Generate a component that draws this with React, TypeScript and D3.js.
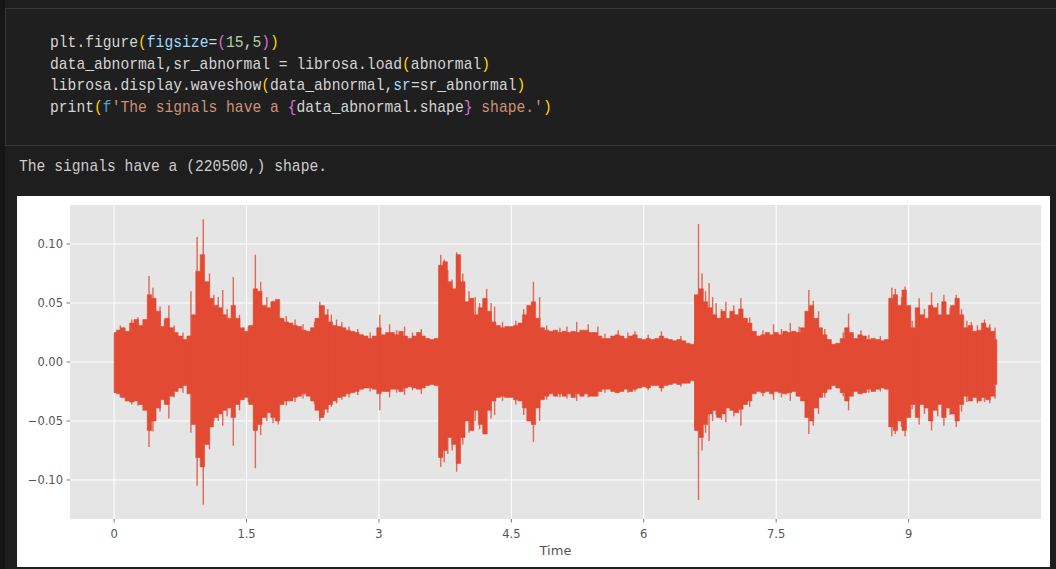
import React from "react";
import * as d3 from "d3";

// librosa.load -> 220500 samples @ 22050 Hz = 10 s
const DURATION = 10;
const FRAME_SEC = 0.05;

// envelope of the waveform per frame (max / min)
const upperEnv = [
  0.025, 0.027, 0.029, 0.026, 0.033, 0.036, 0.031, 0.036, 0.057, 0.054, 0.043, 0.03, 0.037, 0.029, 0.025, 0.022, 0.019, 0.022, 0.04, 0.077,
  0.091, 0.068, 0.054, 0.048, 0.046, 0.04, 0.037, 0.048, 0.037, 0.029, 0.026, 0.031, 0.062, 0.06, 0.048, 0.046, 0.051, 0.053, 0.037, 0.034,
  0.033, 0.031, 0.03, 0.027, 0.026, 0.029, 0.037, 0.048, 0.04, 0.034, 0.031, 0.03, 0.029, 0.027, 0.026, 0.025, 0.023, 0.022, 0.02, 0.022,
  0.029, 0.023, 0.025, 0.025, 0.023, 0.026, 0.022, 0.02, 0.022, 0.025, 0.022, 0.02, 0.019, 0.02, 0.082, 0.085, 0.068, 0.062, 0.091, 0.068,
  0.051, 0.054, 0.04, 0.046, 0.054, 0.043, 0.034, 0.031, 0.029, 0.03, 0.03, 0.031, 0.033, 0.04, 0.048, 0.051, 0.037, 0.029, 0.027, 0.026,
  0.027, 0.025, 0.026, 0.025, 0.026, 0.025, 0.027, 0.027, 0.025, 0.025, 0.022, 0.02, 0.02, 0.022, 0.023, 0.022, 0.02, 0.022, 0.023, 0.02,
  0.019, 0.02, 0.019, 0.02, 0.022, 0.02, 0.019, 0.018, 0.019, 0.018, 0.016, 0.015, 0.057, 0.062, 0.051, 0.046, 0.04, 0.037, 0.043, 0.037,
  0.043, 0.04, 0.045, 0.037, 0.033, 0.026, 0.022, 0.023, 0.025, 0.023, 0.025, 0.023, 0.026, 0.025, 0.026, 0.025, 0.029, 0.043, 0.048, 0.037,
  0.029, 0.023, 0.019, 0.015, 0.016, 0.02, 0.029, 0.025, 0.02, 0.023, 0.022, 0.019, 0.02, 0.019, 0.018, 0.019, 0.054, 0.057, 0.048, 0.061,
  0.048, 0.029, 0.046, 0.04, 0.037, 0.048, 0.046, 0.04, 0.051, 0.04, 0.048, 0.054, 0.04, 0.029, 0.031, 0.026, 0.027, 0.033, 0.029, 0.026,
  0.019,
];

const lowerEnv = [
  -0.026, -0.027, -0.03, -0.033, -0.034, -0.033, -0.036, -0.041, -0.058, -0.05, -0.039, -0.032, -0.036, -0.029, -0.025, -0.022, -0.02, -0.027, -0.053, -0.081,
  -0.089, -0.07, -0.055, -0.047, -0.044, -0.041, -0.039, -0.047, -0.036, -0.032, -0.03, -0.036, -0.058, -0.053, -0.047, -0.043, -0.047, -0.05, -0.036, -0.033,
  -0.033, -0.03, -0.029, -0.027, -0.029, -0.033, -0.041, -0.047, -0.04, -0.036, -0.033, -0.03, -0.029, -0.027, -0.026, -0.025, -0.023, -0.022, -0.022, -0.023,
  -0.027, -0.025, -0.025, -0.023, -0.023, -0.025, -0.022, -0.021, -0.022, -0.023, -0.022, -0.02, -0.019, -0.02, -0.081, -0.075, -0.064, -0.07, -0.086, -0.064,
  -0.05, -0.058, -0.041, -0.053, -0.061, -0.041, -0.033, -0.03, -0.029, -0.03, -0.03, -0.032, -0.033, -0.039, -0.05, -0.053, -0.039, -0.032, -0.029, -0.027,
  -0.029, -0.027, -0.029, -0.027, -0.03, -0.027, -0.029, -0.027, -0.029, -0.029, -0.025, -0.023, -0.023, -0.025, -0.026, -0.025, -0.023, -0.025, -0.023, -0.022,
  -0.021, -0.022, -0.02, -0.02, -0.022, -0.02, -0.019, -0.018, -0.019, -0.018, -0.018, -0.016, -0.058, -0.064, -0.053, -0.044, -0.041, -0.047, -0.044, -0.039,
  -0.041, -0.043, -0.04, -0.036, -0.033, -0.027, -0.025, -0.026, -0.025, -0.027, -0.025, -0.026, -0.027, -0.026, -0.025, -0.029, -0.033, -0.047, -0.05, -0.039,
  -0.03, -0.026, -0.023, -0.02, -0.022, -0.026, -0.033, -0.029, -0.025, -0.027, -0.026, -0.023, -0.025, -0.023, -0.022, -0.023, -0.055, -0.058, -0.05, -0.058,
  -0.047, -0.036, -0.047, -0.036, -0.039, -0.05, -0.041, -0.036, -0.047, -0.039, -0.044, -0.05, -0.036, -0.029, -0.033, -0.03, -0.033, -0.03, -0.032, -0.029,
  -0.019,
];

// narrow transients: [time s, max, min]
const peaks: [number, number, number][] = [
  [0.07, 0.031, -0.03], [0.2, 0.036, -0.036], [0.27, 0.038, -0.037], [0.395, 0.073, -0.072],
  [0.44, 0.063, -0.059], [0.52, 0.047, -0.042], [0.57, 0.036, -0.036], [0.62, 0.048, -0.048],
  [0.68, 0.031, -0.03], [0.78, 0.025, -0.026], [0.87, 0.06, -0.06], [0.94, 0.106, -0.105],
  [1.01, 0.121, -0.121], [1.08, 0.075, -0.074], [1.13, 0.057, -0.05], [1.18, 0.055, -0.05],
  [1.23, 0.061, -0.054], [1.28, 0.045, -0.046], [1.35, 0.072, -0.071], [1.42, 0.04, -0.041],
  [1.52, 0.03, -0.034], [1.6, 0.091, -0.09], [1.66, 0.068, -0.062], [1.73, 0.055, -0.05],
  [1.8, 0.052, -0.052], [1.86, 0.053, -0.053], [1.95, 0.039, -0.037], [2.05, 0.036, -0.034],
  [2.14, 0.032, -0.031], [2.27, 0.034, -0.036], [2.33, 0.051, -0.05], [2.38, 0.048, -0.045],
  [2.42, 0.045, -0.043], [2.46, 0.04, -0.038], [2.52, 0.036, -0.035], [2.58, 0.034, -0.032],
  [2.66, 0.03, -0.03], [2.76, 0.028, -0.028], [2.9, 0.025, -0.025], [3.01, 0.04, -0.041],
  [3.12, 0.032, -0.03], [3.2, 0.027, -0.026], [3.29, 0.03, -0.028], [3.38, 0.025, -0.024],
  [3.48, 0.028, -0.027], [3.7, 0.091, -0.089], [3.74, 0.087, -0.085], [3.78, 0.078, -0.078],
  [3.83, 0.07, -0.075], [3.88, 0.093, -0.093], [3.95, 0.075, -0.07], [4.02, 0.06, -0.06],
  [4.09, 0.055, -0.05], [4.14, 0.05, -0.057], [4.22, 0.062, -0.061], [4.27, 0.05, -0.048],
  [4.31, 0.047, -0.045], [4.4, 0.034, -0.033], [4.55, 0.035, -0.036], [4.64, 0.045, -0.045],
  [4.75, 0.068, -0.068], [4.82, 0.055, -0.05], [4.9, 0.031, -0.032], [5.05, 0.029, -0.03],
  [5.13, 0.03, -0.031], [5.24, 0.034, -0.033], [5.37, 0.032, -0.03], [5.48, 0.03, -0.029],
  [5.56, 0.024, -0.026], [5.71, 0.027, -0.026], [5.82, 0.025, -0.026], [5.9, 0.026, -0.025],
  [6.05, 0.023, -0.024], [6.2, 0.026, -0.025], [6.42, 0.022, -0.021], [6.58, 0.057, -0.055],
  [6.62, 0.117, -0.117], [6.66, 0.075, -0.075], [6.7, 0.06, -0.06], [6.74, 0.067, -0.067],
  [6.78, 0.055, -0.05], [6.82, 0.05, -0.045], [6.88, 0.045, -0.049], [6.93, 0.051, -0.051],
  [7.02, 0.048, -0.046], [7.1, 0.054, -0.054], [7.2, 0.038, -0.038], [7.35, 0.027, -0.029],
  [7.47, 0.032, -0.032], [7.56, 0.028, -0.03], [7.66, 0.033, -0.033], [7.76, 0.03, -0.029],
  [7.87, 0.061, -0.061], [7.92, 0.052, -0.054], [7.98, 0.043, -0.044], [8.05, 0.028, -0.03],
  [8.26, 0.025, -0.029], [8.32, 0.041, -0.041], [8.46, 0.027, -0.027], [8.55, 0.023, -0.026],
  [8.68, 0.022, -0.025], [8.81, 0.063, -0.063], [8.85, 0.062, -0.061], [8.92, 0.055, -0.055],
  [8.96, 0.064, -0.063], [9.04, 0.035, -0.04], [9.12, 0.054, -0.053], [9.18, 0.045, -0.044],
  [9.26, 0.059, -0.058], [9.33, 0.05, -0.046], [9.4, 0.057, -0.054], [9.47, 0.046, -0.045],
  [9.54, 0.057, -0.055], [9.6, 0.045, -0.042], [9.66, 0.035, -0.034], [9.71, 0.034, -0.033],
  [9.78, 0.031, -0.035], [9.86, 0.036, -0.034], [9.92, 0.032, -0.035], [9.98, 0.029, -0.031],
];

const xTicks = [0, 1.5, 3, 4.5, 6, 7.5, 9];
const yTicks = [-0.1, -0.05, 0, 0.05, 0.1];

const codeLines: [string, string][][] = [
  [["plt.figure", "#d4d4d4"], ["(", "#ffd700"], ["figsize", "#9cdcfe"], ["=", "#d4d4d4"], ["(", "#da70d6"], ["15", "#b5cea8"], [",", "#d4d4d4"], ["5", "#b5cea8"], [")", "#da70d6"], [")", "#ffd700"]],
  [["data_abnormal,sr_abnormal = librosa.load", "#d4d4d4"], ["(", "#ffd700"], ["abnormal", "#d4d4d4"], [")", "#ffd700"]],
  [["librosa.display.waveshow", "#d4d4d4"], ["(", "#ffd700"], ["data_abnormal,", "#d4d4d4"], ["sr", "#9cdcfe"], ["=", "#d4d4d4"], ["sr_abnormal", "#d4d4d4"], [")", "#ffd700"]],
  [["print", "#d4d4d4"], ["(", "#ffd700"], ["f", "#569cd6"], ["'The signals have a ", "#ce9178"], ["{", "#da70d6"], ["data_abnormal.shape", "#d4d4d4"], ["}", "#da70d6"], [" shape.'", "#ce9178"], [")", "#ffd700"]],
];
const outputText = "The signals have a (220500,) shape.";

const W = 1056;
const H = 569;
const ax = { left: 70, right: 1041, top: 205, bottom: 519 };
const RED = "#E24A33";
const mono = "'Liberation Mono', 'DejaVu Sans Mono', monospace";
const sans = "'DejaVu Sans', sans-serif";
// narrow the mono font so 16px glyphs keep an 8.8px advance (Consolas-like)
const SQUEEZE = 0.917;

export default function App() {
  const frames = upperEnv.map((hi, i) => ({ t: i * FRAME_SEC, hi, lo: lowerEnv[i] }));
  const yMax = d3.max([...upperEnv, ...peaks.map((p) => p[1])]) as number;
  const yMin = d3.min([...lowerEnv, ...peaks.map((p) => p[2])]) as number;
  const pad = (yMax - yMin) * 0.05;

  const x = d3.scaleLinear().domain([-0.05 * DURATION, 1.05 * DURATION]).range([ax.left, ax.right]);
  const y = d3.scaleLinear().domain([yMin - pad, yMax + pad]).range([ax.bottom, ax.top]);

  const area = d3
    .area<{ t: number; hi: number; lo: number }>()
    .x((d) => x(d.t))
    .y0((d) => y(d.lo))
    .y1((d) => y(d.hi))
    .curve(d3.curveStep);

  const fmtX = d3.format("~g");
  const fmtY = d3.format(".2f");

  return (
    <svg width={W} height={H} style={{ position: "absolute", left: 0, top: 0, display: "block" }}>
      <rect x={0} y={0} width={W} height={H} fill="#1e1e1e" />
      <rect x={0} y={0} width={5} height={H} fill="#161616" />

      {/* code cell */}
      <rect x={5.5} y={8.5} width={W} height={137} fill="#1f1f1f" stroke="#383838" />
      {codeLines.map((line, i) => (
        <text
          key={i}
          transform={`translate(50,${47 + i * 21.5}) scale(${SQUEEZE},1)`}
          fontFamily={mono}
          fontSize={16}
          style={{ whiteSpace: "pre" }}
        >
          {line.map(([s, c], j) => (
            <tspan key={j} fill={c}>
              {s}
            </tspan>
          ))}
        </text>
      ))}
      <text
        transform={`translate(19,171) scale(${SQUEEZE},1)`}
        fontFamily={mono}
        fontSize={16}
        fill="#cccccc"
        style={{ whiteSpace: "pre" }}
      >
        {outputText}
      </text>

      {/* figure */}
      <rect x={17} y={196} width={1033} height={371} fill="#ffffff" />
      <rect x={ax.left} y={ax.top} width={ax.right - ax.left} height={ax.bottom - ax.top} fill="#E5E5E5" />
      {xTicks.map((t) => (
        <line key={"gx" + t} x1={x(t)} x2={x(t)} y1={ax.top} y2={ax.bottom} stroke="#ffffff" strokeWidth={1} />
      ))}
      {yTicks.map((v) => (
        <line key={"gy" + v} x1={ax.left} x2={ax.right} y1={y(v)} y2={y(v)} stroke="#ffffff" strokeWidth={1} />
      ))}

      <path d={area(frames) ?? ""} fill={RED} stroke={RED} strokeWidth={0.6} />
      {peaks.map(([t, hi, lo], i) => (
        <line key={i} x1={x(t)} x2={x(t)} y1={y(hi)} y2={y(lo)} stroke={RED} strokeWidth={1.4} strokeOpacity={0.82} />
      ))}

      {/* ticks */}
      {xTicks.map((t) => (
        <g key={"tx" + t}>
          <line x1={x(t)} x2={x(t)} y1={ax.bottom} y2={ax.bottom + 3.5} stroke="#555" strokeWidth={0.8} />
          <text x={x(t)} y={ax.bottom + 19} textAnchor="middle" fontFamily={sans} fontSize={11.5} fill="#555">
            {fmtX(t)}
          </text>
        </g>
      ))}
      {yTicks.map((v) => (
        <g key={"ty" + v}>
          <line x1={ax.left - 3.5} x2={ax.left} y1={y(v)} y2={y(v)} stroke="#555" strokeWidth={0.8} />
          <text x={ax.left - 7} y={y(v) + 4.2} textAnchor="end" fontFamily={sans} fontSize={11.5} fill="#555">
            {fmtY(v)}
          </text>
        </g>
      ))}
      <text x={(ax.left + ax.right) / 2} y={555} textAnchor="middle" fontFamily={sans} fontSize={13} fill="#555">
        Time
      </text>
    </svg>
  );
}
